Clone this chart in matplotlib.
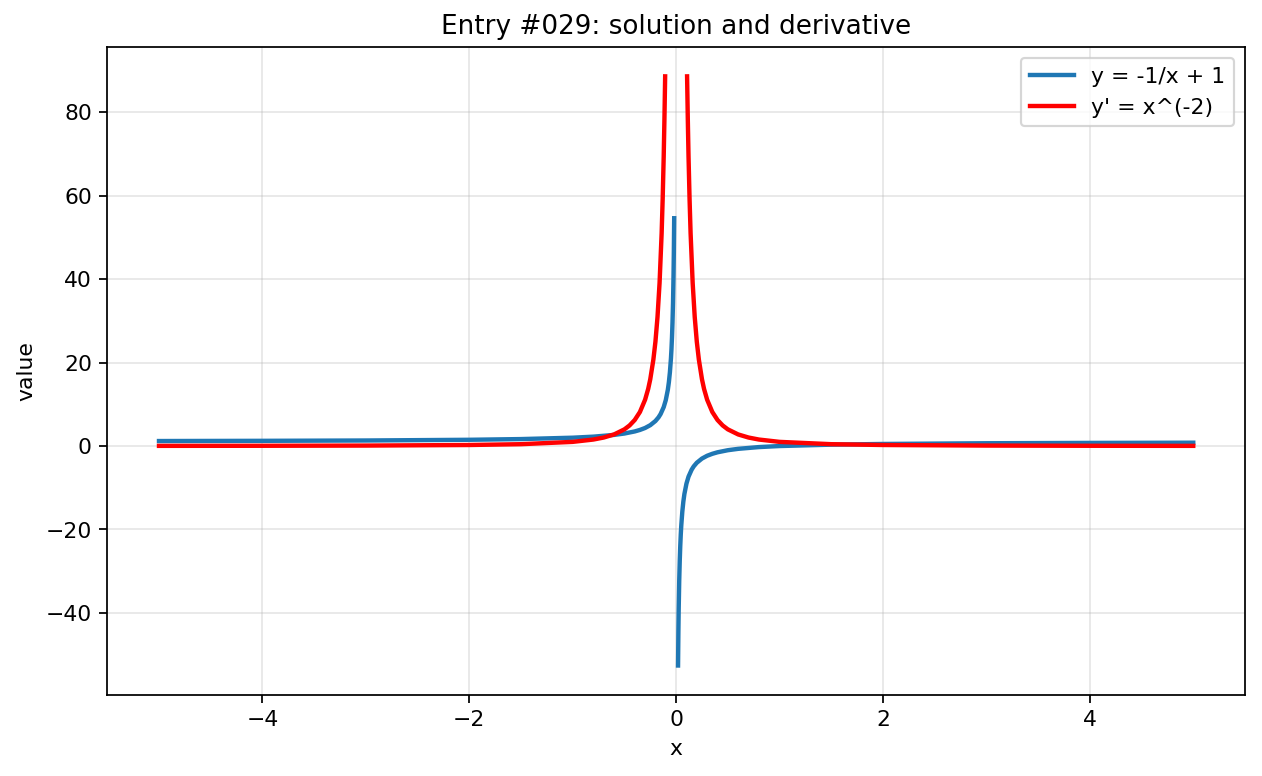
import numpy as np
import matplotlib.pyplot as plt

# values
blue_left_x = [-5, -4, -3, -2, -1.5, -1, -0.8, -0.6, -0.5, -0.4, -0.35, -0.3, -0.25, -0.2,
               -0.17, -0.15, -0.12, -0.1, -0.08, -0.07, -0.06, -0.05, -0.045, -0.04,
               -0.035, -0.03, -0.025, -0.022, -0.0187]
blue_left_y = [1.2, 1.25, 1.33, 1.5, 1.67, 2.0, 2.25, 2.67, 3.0, 3.5, 3.86, 4.33, 5.0, 6.0,
               6.88, 7.67, 9.33, 11.0, 13.5, 15.3, 17.7, 21.0, 23.2, 26.0,
               29.6, 34.3, 41.0, 46.5, 54.6]
blue_right_x = [0.0187, 0.022, 0.025, 0.03, 0.035, 0.04, 0.045, 0.05, 0.06, 0.07, 0.08,
                0.1, 0.12, 0.15, 0.17, 0.2, 0.25, 0.3, 0.35, 0.4, 0.5, 0.6, 0.8, 1,
                1.5, 2, 3, 4, 5]
blue_right_y = [-52.6, -44.5, -39.0, -32.3, -27.6, -24.0, -21.2, -19.0, -15.7, -13.3, -11.5,
                -9.0, -7.33, -5.67, -4.88, -4.0, -3.0, -2.33, -1.86, -1.5, -1.0, -0.67, -0.25, 0.0,
                0.33, 0.5, 0.67, 0.75, 0.8]

red_left_x = [-5, -4, -3, -2, -1.5, -1, -0.8, -0.7, -0.6, -0.5, -0.45, -0.4, -0.35, -0.3,
              -0.27, -0.25, -0.22, -0.2, -0.18, -0.16, -0.14, -0.13, -0.12, -0.113, -0.106]
red_left_y = [0.04, 0.0625, 0.111, 0.25, 0.444, 1.0, 1.56, 2.04, 2.78, 4.0, 4.94, 6.25, 8.16, 11.1,
              13.7, 16.0, 20.7, 25.0, 30.9, 39.1, 51.0, 59.2, 69.4, 78.3, 88.6]
red_right_x = [-v for v in red_left_x[::-1]]
red_right_y = red_left_y[::-1]

x_blue = blue_left_x + [np.nan] + blue_right_x
y_blue = blue_left_y + [np.nan] + blue_right_y
x_red = red_left_x + [np.nan] + red_right_x
y_red = red_left_y + [np.nan] + red_right_y

fig, ax = plt.subplots(figsize=(8, 4.92), dpi=157.75)
ax.plot(x_blue, y_blue, color="#1f77b4", lw=2, label="y = -1/x + 1")
ax.plot(x_red, y_red, color="red", lw=2, label="y' = x^(-2)")
ax.grid(alpha=0.3)
ax.set_xlabel("x")
ax.set_ylabel("value")
ax.set_title("Entry #029: solution and derivative")
ax.legend(loc="upper right")
fig.subplots_adjust(left=0.085, right=0.9865, top=0.9394, bottom=0.1044)
fig.savefig("out.png")
